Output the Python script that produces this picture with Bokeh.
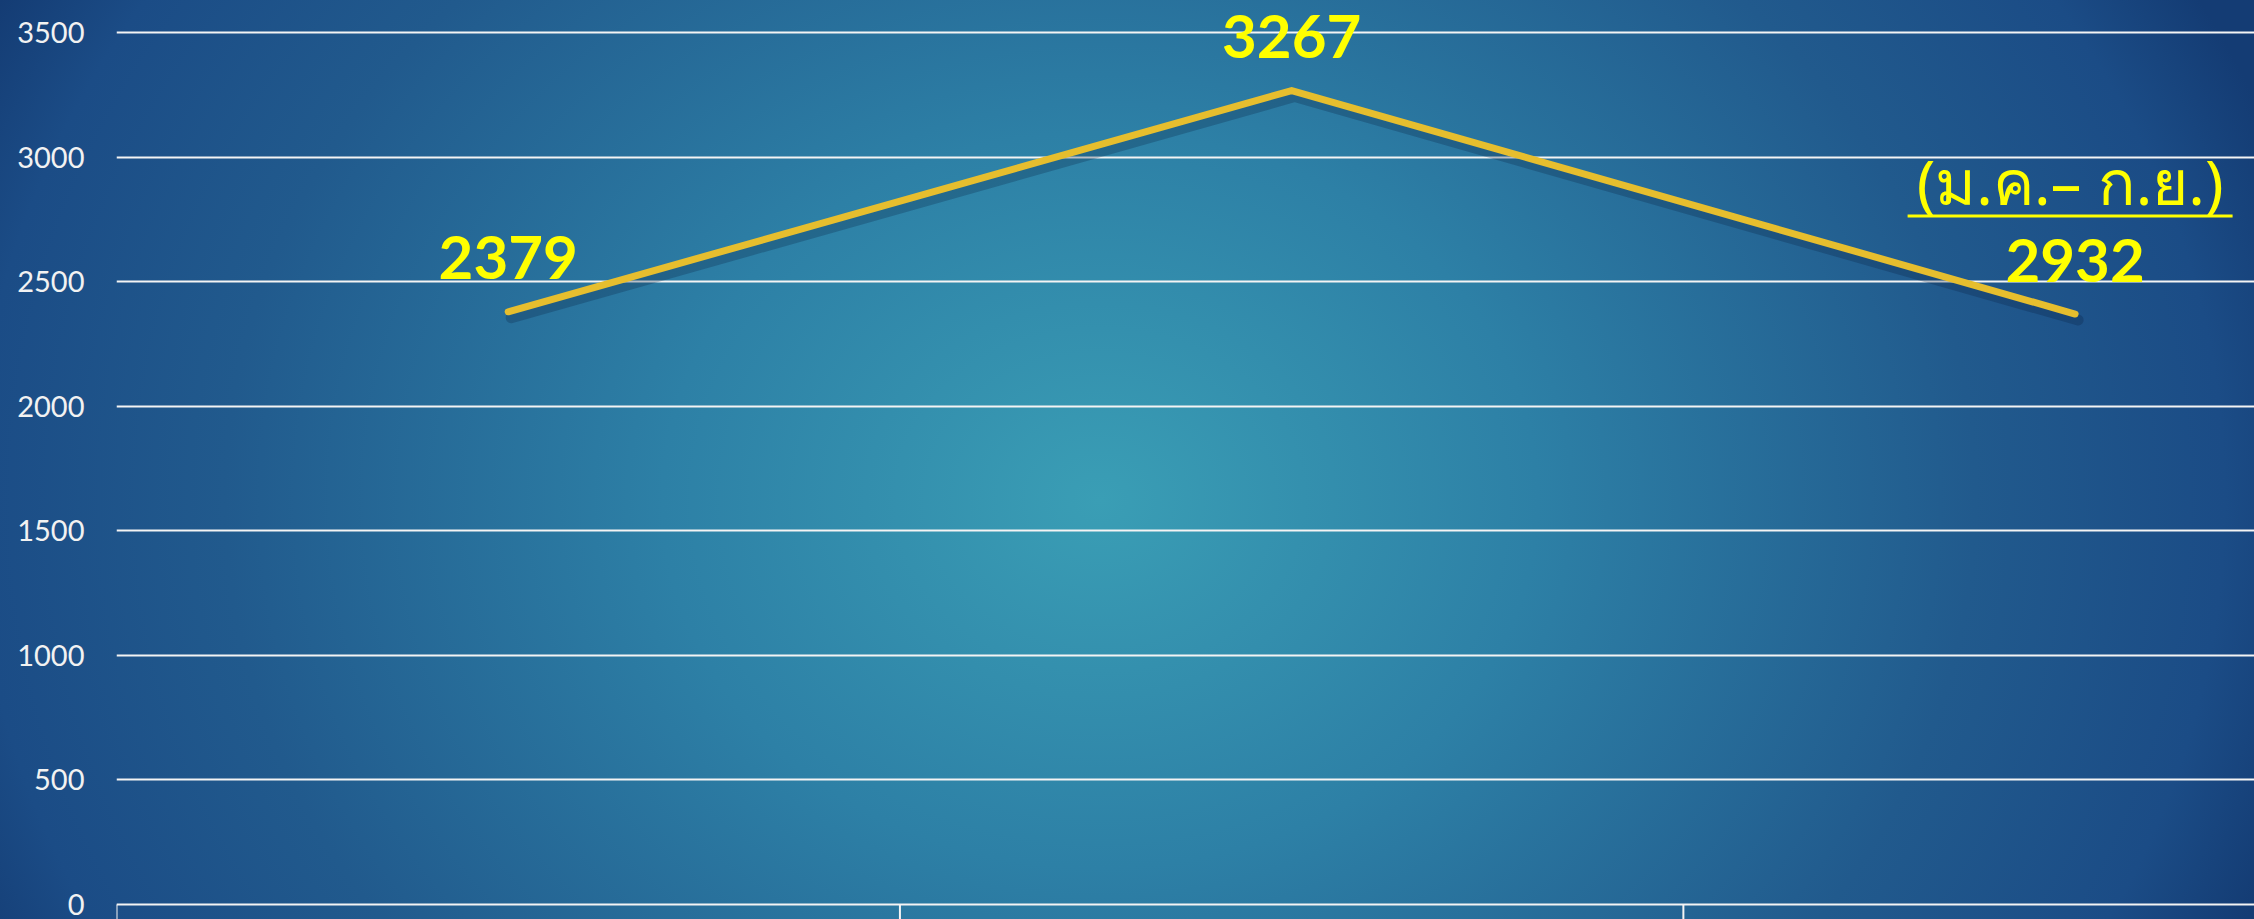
from bokeh.plotting import figure
from bokeh.models import Range1d, FixedTicker
from bokeh.core.properties import value
from bokeh.embed import file_html
from bokeh.resources import INLINE

# ---- data ----
values = [2379, 3267, 2370]              # plotted line values
value_labels = ["2379", "3267", "2932"]  # labels shown on the chart
period_note = "(ม.ค.– ก.ย.)"
y_ticks = [0, 500, 1000, 1500, 2000, 2500, 3000, 3500]

# ---- layout ----
W, H = 2254, 919
LEFT = 116
Y0, Y1 = -60.2, 3628.4
X0, X1 = 0, 2.729
ppu = H / (Y1 - Y0)           # screen px per data unit (vertical)
ppx = (W - LEFT) / (X1 - X0)  # screen px per data unit (horizontal)

xs = [i + 0.5 for i in range(len(values))]
bounds = list(range(len(values)))

p = figure(width=W, height=H, output_backend="svg", toolbar_location=None,
           x_range=Range1d(X0, X1), y_range=Range1d(Y0, Y1),
           x_axis_type=None,
           min_border_left=LEFT, min_border_right=0, min_border_top=0, min_border_bottom=0)
p.background_fill_alpha = 0
p.border_fill_alpha = 0
p.outline_line_color = None

# y axis
ya = p.yaxis[0]
ya.ticker = FixedTicker(ticks=y_ticks)
ya.axis_line_color = None
ya.major_tick_line_color = None
ya.minor_tick_line_color = None
ya.major_tick_out = 0
ya.major_tick_in = 0
ya.major_label_standoff = 32
ya.major_label_text_font = "Lato"
ya.major_label_text_font_size = "29px"
ya.major_label_text_color = "#F2F2F2"

p.ygrid.ticker = FixedTicker(ticks=y_ticks)
p.ygrid.grid_line_color = "#F4F4F4"
p.ygrid.grid_line_width = 2

# category boundary ticks below the zero line
p.segment(x0=bounds, y0=[0] * len(bounds), x1=bounds, y1=[Y0] * len(bounds),
          line_color="#F4F4F4", line_width=2)

# line shadow
p.line([x + 3 / ppx for x in xs], [v - 6 / ppu for v in values],
       line_color="#071B3A", line_alpha=0.25, line_width=11, line_cap="round", line_join="round")
# main line
p.line(xs, values, line_color="#E6BE2E", line_width=7, line_cap="round", line_join="round")

# value labels
p.text(x=xs, y=values, text=value_labels, text_align="center", text_baseline="alphabetic",
       y_offset=-54, text_color="#FFFF00", text_font=value("Lato"), text_font_style="bold",
       text_font_size="60px")

# period note with underline (anchored to last point)
p.text(x=[xs[-1]], y=[values[-1]], text=[period_note], text_align="center",
       text_baseline="alphabetic", x_offset=-5, y_offset=-133, text_color="#FFFF00",
       text_font=value("Noto Sans"), text_font_size="62px")
p.rect(x=[xs[-1] - 5 / ppx], y=[values[-1] + 98 / ppu], width=325, height=3,
       width_units="screen", height_units="screen", fill_color="#FFFF00", line_color=None)

html = file_html(p, INLINE, title="chart")
css = ("<style>html{height:100%;background-color:#133A72;"
       "background-image:radial-gradient(ellipse 1250px 1050px at 1100px 500px,"
       "#3A9EB5 0%,#2D80A6 35%,#215A8D 70%,#1B4C86 90%,#143C74 100%);"
       "background-repeat:no-repeat;}"
       "body{background:transparent;overflow:hidden;margin:0;}</style>")
html = html.replace("</head>", css + "</head>", 1)
open("out.html", "w").write(html)
